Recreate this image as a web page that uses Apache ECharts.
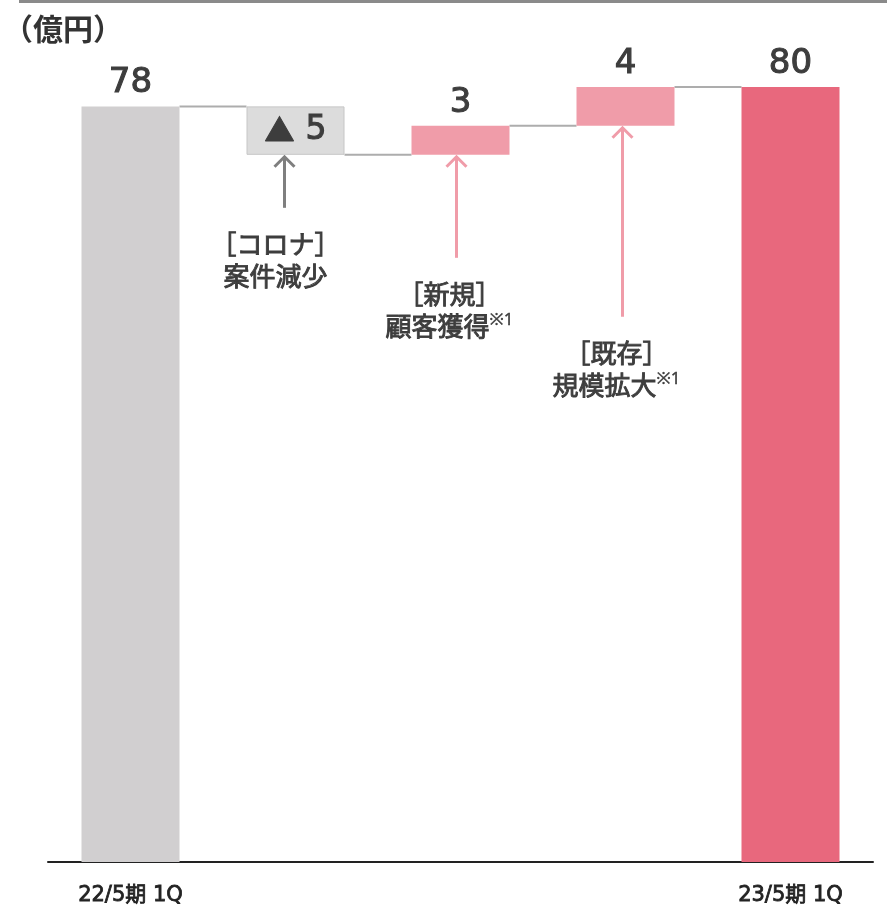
<!DOCTYPE html>
<html>
<head>
<meta charset="utf-8">
<script src="https://cdn.jsdelivr.net/npm/echarts@6/dist/echarts.min.js"></script>
<style>
  html, body { margin: 0; padding: 0; background: #fff; }
  #chart { width: 887px; height: 907px; }
</style>
</head>
<body>
<div id="chart"></div>
<script>
// Waterfall: bridge between two first quarters (unit: 億円)
const categories = ['22/5期 1Q', '', '', '', '23/5期 1Q'];
const startValue = 78;
const stepValues = [-5, 3, 4];
const endValue = 80;
const stepTitles = ['［コロナ］', '［新規］', '［既存］'];
const stepNames = ['案件減少', '顧客獲得', '規模拡大'];
const stepMarks = ['', '※1', '※1'];

const FONT_NUM = '"DejaVu Sans", "Noto Sans CJK JP", sans-serif';
const FONT_JP = '"Noto Sans CJK JP", sans-serif';
const FONT_NOTE = '"Noto Sans", "Noto Sans CJK JP", sans-serif';
const BAR_W = 98;

const COLOR_START = '#d1cfd0';
const COLOR_NEG = '#dcdcdc';
const COLOR_POS = '#f09ca9';
const COLOR_END = '#e8687d';
const TEXT = '#3d3d3d';

// A thin outline in the text colour gives a medium weight
function medium(width) {
  return { textBorderColor: TEXT, textBorderWidth: width };
}

// Invisible bases, visible segments and the running level after each bar
const bases = [0];
const segments = [];
const levels = [startValue];
segments.push({
  value: startValue,
  itemStyle: { color: COLOR_START },
  label: { show: true, position: 'top', formatter: String(startValue) }
});
let running = startValue;
stepValues.forEach(function (v) {
  const base = v < 0 ? running + v : running;
  bases.push(base);
  const neg = v < 0;
  segments.push({
    value: Math.abs(v),
    itemStyle: neg
      ? { color: COLOR_NEG, borderColor: '#c6c6c6', borderWidth: 1 }
      : { color: COLOR_POS },
    label: neg
      ? { show: true, position: 'inside', formatter: '{t|▲} {n|' + Math.abs(v) + '}',
          rich: { t: { fontSize: 30, color: TEXT, fontFamily: FONT_JP, padding: [0, 0, 2, 0] },
                  n: Object.assign({ fontSize: 33, color: TEXT, fontFamily: FONT_NUM }, medium(1.1)) } }
      : { show: true, position: 'top', formatter: String(v) }
  });
  running += v;
  levels.push(running);
});
bases.push(0);
segments.push({
  value: endValue,
  itemStyle: { color: COLOR_END },
  label: { show: true, position: 'top', formatter: String(endValue) }
});

// Connector lines: [category index, level]
const connectorData = levels.map(function (lv, i) { return [i, lv]; });

// Arrows beneath each step: [category index, box bottom value, step number]
const arrowData = stepValues.map(function (v, k) { return [k + 1, bases[k + 1], k]; });
const arrowLen = [52, 102, 190];
const arrowDx = [-11, -4, -3];
const textDx = [-20, -11, -9];
const arrowColors = ['#7f7f7f', COLOR_POS, COLOR_POS];

const chart = echarts.init(document.getElementById('chart'), null, { renderer: 'canvas' });

chart.setOption({
  animation: false,
  backgroundColor: '#fff',
  title: {
    text: '（億円）',
    left: -2,
    top: 9,
    textStyle: { fontFamily: FONT_JP, fontSize: 30, fontWeight: 'bold', color: '#333' }
  },
  graphic: [{
    type: 'rect',
    shape: { x: 19, y: 0, width: 868, height: 3 },
    style: { fill: '#8a8a8a' },
    silent: true
  }],
  grid: { left: 48, right: 14, top: 87, bottom: 45 },
  xAxis: {
    type: 'category',
    data: categories,
    axisLine: { lineStyle: { color: '#222', width: 2 } },
    axisTick: { show: false },
    axisLabel: {
      interval: 0,
      margin: 23,
      fontFamily: FONT_NUM,
      fontSize: 21,
      color: '#222',
      textBorderColor: '#222',
      textBorderWidth: 0.8
    }
  },
  yAxis: {
    type: 'value',
    min: 0,
    max: 80,
    show: false,
    splitLine: { show: false }
  },
  series: [
    {
      name: 'base',
      type: 'bar',
      stack: 'w',
      barWidth: BAR_W,
      itemStyle: { color: 'transparent' },
      emphasis: { disabled: true },
      data: bases
    },
    {
      name: 'value',
      type: 'bar',
      stack: 'w',
      barWidth: BAR_W,
      label: Object.assign({
        fontFamily: FONT_NUM,
        fontSize: 34,
        color: TEXT,
        distance: 6
      }, medium(1.1)),
      data: segments
    },
    {
      name: 'connector',
      type: 'custom',
      silent: true,
      z: 1,
      renderItem: function (params, api) {
        const i = api.value(0);
        const lv = api.value(1);
        const p0 = api.coord([i, lv]);
        const p1 = api.coord([i + 1, lv]);
        return {
          type: 'line',
          shape: { x1: p0[0] + BAR_W / 2, y1: p0[1], x2: p1[0] - BAR_W / 2, y2: p1[1] },
          style: { stroke: '#adadad', lineWidth: 2 }
        };
      },
      data: connectorData
    },
    {
      name: 'notes',
      type: 'custom',
      silent: true,
      renderItem: function (params, api) {
        const i = api.value(0);
        const v = api.value(1);
        const k = api.value(2);
        const p = api.coord([i, v]);
        const ax = p[0] + arrowDx[k];
        const tip = p[1] + 1;
        const end = tip + arrowLen[k];
        const col = arrowColors[k];
        const tx = p[0] + textDx[k];
        const mark = stepMarks[k];
        return {
          type: 'group',
          children: [
            { type: 'line', shape: { x1: ax, y1: tip + 2, x2: ax, y2: end },
              style: { stroke: col, lineWidth: 3 } },
            { type: 'polyline', shape: { points: [[ax - 10, tip + 11], [ax, tip + 1], [ax + 10, tip + 11]] },
              style: { stroke: col, lineWidth: 3, fill: null, lineJoin: 'miter' } },
            { type: 'text',
              style: {
                x: tx, y: end + 20,
                text: '{a|' + stepTitles[k] + '}\n{a|' + stepNames[k] + '}' + (mark ? '{s|' + mark + '}' : ''),
                align: 'center',
                verticalAlign: 'top',
                rich: {
                  a: { fontFamily: FONT_JP, fontSize: 26, fill: TEXT, stroke: TEXT, lineWidth: 0.9, lineHeight: 32 },
                  s: { fontFamily: FONT_NOTE, fontSize: 17, fill: TEXT, stroke: TEXT, lineWidth: 0.4, lineHeight: 32, padding: [0, 0, 12, 0] }
                }
              } }
          ]
        };
      },
      data: arrowData
    }
  ]
});
</script>
</body>
</html>
